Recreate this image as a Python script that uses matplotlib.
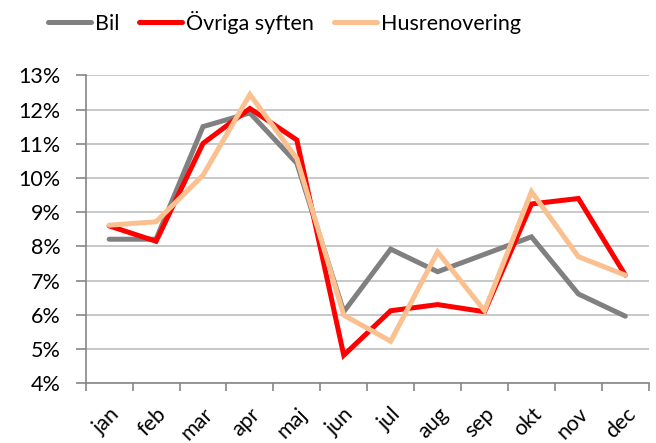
import matplotlib
matplotlib.use('Agg')
from matplotlib import pyplot as plt
import numpy as np

months = ['jan', 'feb', 'mar', 'apr', 'maj', 'jun', 'jul', 'aug', 'sep', 'okt', 'nov', 'dec']
bil = [8.21, 8.21, 11.5, 11.9, 10.43, 6.09, 7.92, 7.26, 7.77, 8.28, 6.61, 5.96]
ovriga = [8.6, 8.15, 11.01, 12.03, 11.11, 4.82, 6.12, 6.30, 6.09, 9.24, 9.40, 7.16]
husrenovering = [8.62, 8.72, 10.08, 12.44, 10.57, 5.99, 5.23, 7.84, 6.12, 9.6, 7.70, 7.16]
y_ticks = list(range(4, 14))

plt.rcParams['font.family'] = ['Lato', 'DejaVu Sans']
fs = 15.5

figure = plt.figure(figsize=(6.56, 4.43), dpi=100)
ax = figure.add_axes([0.1306, 0.1348, 0.8584, 0.6952])

x = np.arange(len(months))
lw = 3.6
ax.plot(x, bil, color='#808080', lw=lw, label='Bil', solid_capstyle='round', solid_joinstyle='miter', zorder=3)
ax.plot(x, ovriga, color='#FF0000', lw=lw, label='Övriga syften', solid_capstyle='round', solid_joinstyle='miter', zorder=4)
ax.plot(x, husrenovering, color='#FAC090', lw=lw, label='Husrenovering', solid_capstyle='round', solid_joinstyle='miter', zorder=5)

ax.set_xlim(-0.5, len(months) - 0.5)
ax.set_ylim(4, 13)
ax.set_yticks(y_ticks)
ax.set_yticklabels([f'{v}%' for v in y_ticks], fontsize=fs)
ax.set_xticks(x)
ax.set_xticklabels(months, fontsize=fs, rotation=45, ha='right', rotation_mode='anchor')
ax.set_xticks(np.arange(-0.5, len(months)), minor=True)
ax.tick_params(axis='x', which='major', length=0, pad=15)
ax.tick_params(axis='x', which='minor', length=6, color='#868686', width=1.2)
ax.tick_params(axis='y', length=7, color='#868686', width=1.2, pad=11)

ax.grid(axis='y', color='#BFBFBF', lw=1.2)
ax.set_axisbelow(True)
for side in ['top', 'right']:
    ax.spines[side].set_visible(False)
for side in ['left', 'bottom']:
    ax.spines[side].set_color('#868686')
    ax.spines[side].set_linewidth(1.2)

figure.legend(loc='center left', bbox_to_anchor=(48 / 656, 1 - 22 / 443), ncol=3, frameon=False,
              fontsize=fs, handlelength=2.0, handletextpad=0.2, columnspacing=0.9,
              borderpad=0, borderaxespad=0)

figure.savefig('out.png', dpi=100)
